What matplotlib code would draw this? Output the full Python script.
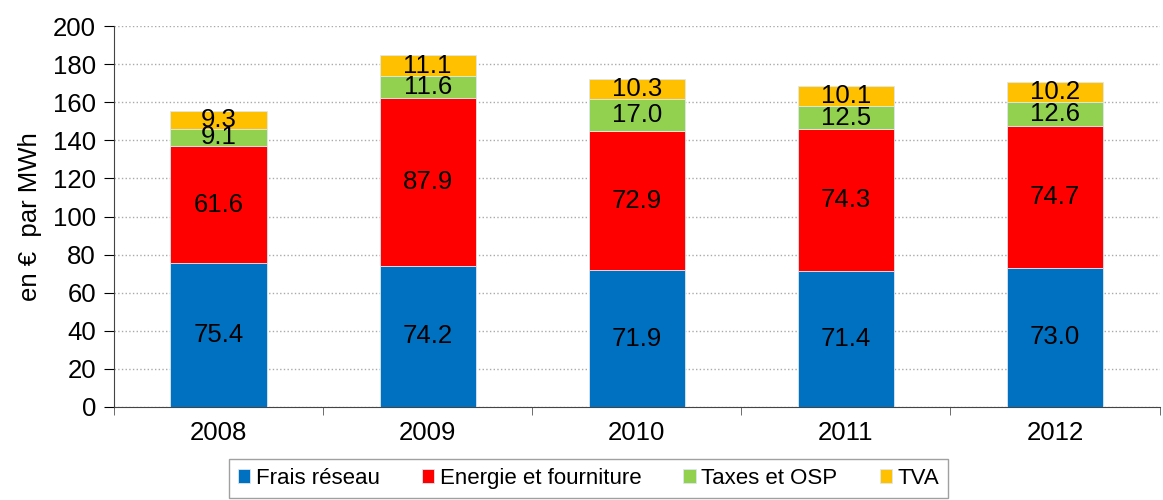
import matplotlib.pyplot as plt
import numpy as np

plt.rcParams['font.family'] = ['Liberation Sans', 'DejaVu Sans']

years = ['2008', '2009', '2010', '2011', '2012']
frais = [75.4, 74.2, 71.9, 71.4, 73.0]
energie = [61.6, 87.9, 72.9, 74.3, 74.7]
taxes = [9.1, 11.6, 17.0, 12.5, 12.6]
tva = [9.3, 11.1, 10.3, 10.1, 10.2]

series = [
    ('Frais réseau', frais, '#0070C0'),
    ('Energie et fourniture', energie, '#FF0000'),
    ('Taxes et OSP', taxes, '#92D050'),
    ('TVA', tva, '#FFC000'),
]

fig = plt.figure(figsize=(11.63, 5.0), dpi=100)
ax = fig.add_axes([0.098, 0.186, 0.899, 0.762])

x = np.arange(len(years))
bottom = np.zeros(len(years))
for name, vals, col in series:
    vals = np.array(vals)
    ax.bar(x, vals, width=0.46, bottom=bottom, color=col, label=name,
           edgecolor='#dde8f0', linewidth=0.6, zorder=3)
    for xi, b, v in zip(x, bottom, vals):
        ax.text(xi, b + v / 2, '%.1f' % v, ha='center', va='center',
                fontsize=18.5, color='black', zorder=4)
    bottom += vals

ax.set_ylim(0, 200)
ax.set_xlim(-0.5, len(years) - 0.5)
ax.set_yticks(np.arange(0, 201, 20))
ax.tick_params(axis='y', labelsize=18.5, length=7, direction='out', pad=6)
ax.set_xticks(x)
ax.set_xticklabels(years, fontsize=18.5)
ax.tick_params(axis='x', length=0, pad=10)
ax.set_xticks(np.arange(-0.5, len(years)), minor=True)
ax.tick_params(axis='x', which='minor', length=6, direction='out', color='#555555')
ax.set_ylabel('en €  par MWh', fontsize=18.5, labelpad=8)

ax.yaxis.grid(True, linestyle=':', color='#aaaaaa', linewidth=1, zorder=0)
for s in ['top', 'right']:
    ax.spines[s].set_visible(False)
ax.spines['left'].set_color('#444444')
ax.spines['bottom'].set_color('#444444')

leg = fig.legend(loc='upper center', bbox_to_anchor=(0.506, 0.082), ncol=4,
                 fontsize=16, frameon=True, fancybox=False, edgecolor='#888888',
                 handlelength=0.55, handleheight=0.55, handletextpad=0.25,
                 columnspacing=1.9, borderpad=0.4, borderaxespad=0)
leg.get_frame().set_linewidth(1)

fig.savefig('out.png', dpi=100)
